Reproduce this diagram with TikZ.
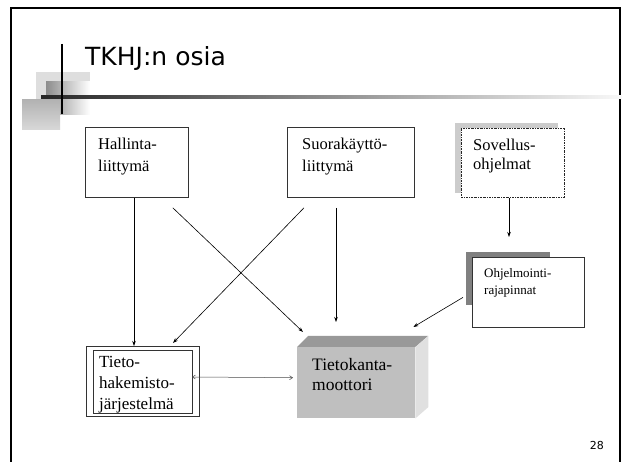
\documentclass[tikz,border=0pt]{standalone}
\usepackage{fontspec}
\setmainfont{Liberation Serif}
\newfontfamily\titlefont{DejaVu Sans}
\usetikzlibrary{arrows.meta,calc}
\tikzset{
  box/.style={draw=black!80, line width=0.8pt, fill=white, anchor=north west, inner sep=0pt},
  txt/.style={anchor=north west, inner sep=0pt, align=left},
  arr/.style={line width=0.6pt, -{Stealth[length=5pt,width=3.5pt]}},
  darr/.style={line width=0.5pt, draw=black!70, {Straight Barb[length=3pt,width=4pt]}-{Straight Barb[length=3pt,width=4pt]}}
}
\begin{document}
\begin{tikzpicture}[x=1pt,y=-1pt]
\useasboundingbox (0,0) rectangle (622,462);
\clip (0,0) rectangle (622,462);
\fill[white] (0,0) rectangle (622,462);
% frame
\draw[line width=2.2pt] (11,8) rectangle (620,475);
% decoration
\fill[black!13] (36,72) rectangle (90,100);
\shade[left color=black!45, right color=white] (46,82) rectangle (90,115);
\shade[top color=black!30, bottom color=black!15] (22,100) rectangle (60,130);
\shade[left color=black!85, right color=white] (41,96) rectangle (640,98.2);
\draw[line width=1.3pt] (62,44) -- (62,114);
\node[anchor=base west, inner sep=0pt, font=\titlefont\fontsize{25}{30}\selectfont] (title) at (85,66) {TKHJ:n osia};
% boxes
\node[box, minimum width=103pt, minimum height=70pt] (hal) at (85,127) {};
\node[txt, font=\fontsize{16.5}{22}\selectfont] (halt) at (98,138) {Hallinta-\\liittymä};
\node[box, minimum width=127pt, minimum height=70pt] (suo) at (287,127) {};
\node[txt, font=\fontsize{16.5}{22}\selectfont] (suot) at (302,138) {Suorakäyttö-\\liittymä};
% sovellus
\fill[black!20] (455,123) rectangle (558,193);
\node[box, draw=black!85, dash pattern=on 2pt off 1pt on 0.6pt off 1pt, minimum width=103pt, minimum height=69pt] (sov) at (461,128) {};
\node[txt, font=\fontsize{16.5}{19}\selectfont] (sovt) at (473,139) {Sovellus-\\ohjelmat};
% ohjelmointi
\fill[black!50] (466,252) rectangle (550,305);
\node[box, minimum width=112pt, minimum height=70pt] (ohj) at (472,257) {};
\node[txt, font=\fontsize{13}{17}\selectfont] (ohjt) at (484,268) {Ohjelmointi-\\rajapinnat};
% tietohakemisto
\node[box, minimum width=113pt, minimum height=70pt] (tie) at (86,346) {};
\draw[black!80, line width=0.8pt] (93,350) rectangle (192,413);
\node[txt, font=\fontsize{17}{21}\selectfont] (tiet) at (99,356) {Tieto-\\hakemisto-\\järjestelmä};
% tietokanta
\node[fill=black!25, anchor=north west, inner sep=0pt, minimum width=118pt, minimum height=71pt] (db) at (297,347) {};
\fill[black!40] (db.north west) -- ++(11,-11) -- ++(120,0) -- (db.north east) -- cycle;
\fill[black!12] (db.north east) -- ++(13,-11) -- ++(0,71) -- (db.south east) -- cycle;
\node[txt, font=\fontsize{17.5}{20}\selectfont] (dbt) at (312,358) {Tietokanta-\\moottori};
% arrows
\coordinate (dbA) at ($(db.north west)+(6,-15)$);
\coordinate (dbB) at ($(db.north west)+(39,-25)$);
\coordinate (dbC) at ($(db.north east)+(-2,-20)$);
\draw[arr] (hal.south -| 134,0) -- (tie.north -| 134,0);
\draw[arr] ($(hal.south east)+(-16,10)$) -- (dbA);
\draw[arr] ($(suo.south west)+(17,10)$) -- ($(tie.north west)+(87,-3)$);
\draw[arr] ($(suo.south west)+(49,10)$) -- (dbB);
\draw[arr] (sov.south -| 509,0) -- ($(ohj.north -| 509,0)+(0,-20)$);
\draw[arr] ($(ohj.west)+(-9,5)$) -- (dbC);
\draw[darr] (192,377) -- ($(db.west)+(-4,-5)$);
\node[anchor=base east, inner sep=0pt, font=\titlefont\fontsize{11}{12}\selectfont] (num) at (604,450) {28};
\end{tikzpicture}
\end{document}
